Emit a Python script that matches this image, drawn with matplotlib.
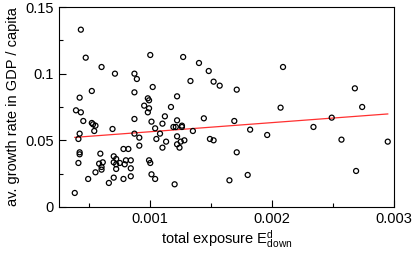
import numpy as np
import matplotlib.pyplot as plt
from matplotlib.ticker import MultipleLocator

plt.rcParams['font.family'] = ['Liberation Sans', 'DejaVu Sans']
plt.rcParams['mathtext.fontset'] = 'custom'
plt.rcParams['mathtext.rm'] = 'Liberation Sans'
plt.rcParams['mathtext.it'] = 'Liberation Sans'

# exposure (x) and growth rate (y)
exposure = [0.00043, 0.00047, 0.00100, 0.00060, 0.00071, 0.00087, 0.00089, 0.00052,
            0.00087, 0.00102, 0.00042, 0.00098, 0.00122, 0.00039, 0.00043, 0.00045,
            0.00052, 0.00053, 0.00055, 0.00054, 0.00042, 0.00041, 0.00069, 0.00087,
            0.00087, 0.00091, 0.00091, 0.00095, 0.00098, 0.00099, 0.00099, 0.00101,
            0.00104, 0.00105, 0.00108, 0.00110, 0.00112, 0.00110, 0.00113, 0.00117,
            0.00119, 0.00121, 0.00122, 0.00122, 0.00124, 0.00042, 0.00042, 0.00041,
            0.00059, 0.00061, 0.00058, 0.00060, 0.00060, 0.00055, 0.00049, 0.00038,
            0.00070, 0.00072, 0.00070, 0.00072, 0.00075, 0.00072, 0.00070, 0.00066,
            0.00078, 0.00082, 0.00080, 0.00079, 0.00084, 0.00084, 0.00084, 0.00078,
            0.00099, 0.00100, 0.00101, 0.00104, 0.00120, 0.00127, 0.00140, 0.00148,
            0.00133, 0.00152, 0.00157, 0.00171, 0.00209, 0.00207, 0.00126, 0.00126,
            0.00144, 0.00135, 0.00122, 0.00128, 0.00125, 0.00149, 0.00152, 0.00169,
            0.00182, 0.00196, 0.00171, 0.00165, 0.00180, 0.00268, 0.00274, 0.00249,
            0.00234, 0.00257, 0.00295, 0.00269]
growth = [0.133, 0.112, 0.114, 0.105, 0.100, 0.100, 0.096, 0.087,
          0.086, 0.090, 0.082, 0.0815, 0.083, 0.0725, 0.071, 0.0645,
          0.063, 0.062, 0.061, 0.057, 0.055, 0.051, 0.0585, 0.066,
          0.055, 0.052, 0.046, 0.076, 0.071, 0.074, 0.080, 0.064,
          0.059, 0.051, 0.055, 0.0625, 0.068, 0.0445, 0.049, 0.075,
          0.060, 0.060, 0.065, 0.047, 0.0445, 0.041, 0.0395, 0.033,
          0.040, 0.0335, 0.0325, 0.030, 0.028, 0.026, 0.021, 0.0105,
          0.038, 0.036, 0.0335, 0.032, 0.033, 0.0285, 0.022, 0.018,
          0.0435, 0.0435, 0.035, 0.032, 0.035, 0.029, 0.023, 0.021,
          0.035, 0.033, 0.0245, 0.021, 0.017, 0.1125, 0.108, 0.102,
          0.0945, 0.094, 0.091, 0.088, 0.105, 0.0745, 0.061, 0.060,
          0.0665, 0.057, 0.053, 0.050, 0.049, 0.051, 0.050, 0.0645,
          0.058, 0.054, 0.041, 0.020, 0.024, 0.089, 0.075, 0.067,
          0.060, 0.0505, 0.049, 0.027]

# linear fit as drawn in the picture
fit_intercept = 0.0496
fit_slope = 6.84

fig = plt.figure(figsize=(4.15, 2.6), dpi=100)
ax = fig.add_axes([0.142, 0.204, 0.807, 0.769])

ax.scatter(exposure, growth, s=13, facecolors='none', edgecolors='black', linewidths=0.9, zorder=3)

xfit = np.array([min(exposure), max(exposure)])
ax.plot(xfit, fit_intercept + fit_slope * xfit, color='#ff3030', lw=0.9, zorder=2)

ax.set_xlim(0.00025, 0.003)
ax.set_ylim(0, 0.15)
ax.set_xticks([0.001, 0.002, 0.003])
ax.set_xticklabels(['0.001', '0.002', '0.003'])
ax.set_yticks([0, 0.05, 0.1, 0.15])
ax.set_yticklabels(['0', '0.05', '0.1', '0.15'])
ax.xaxis.set_minor_locator(MultipleLocator(0.0005))
ax.yaxis.set_minor_locator(MultipleLocator(0.025))
ax.tick_params(which='both', direction='in', top=False, right=False, labelsize=10.5)
ax.tick_params(which='major', length=5, width=0.8)
ax.tick_params(which='minor', length=3, width=0.8)

ax.set_xlabel(r'total exposure E$^{\mathrm{d}}_{\mathrm{down}}$', fontsize=10.5, labelpad=2)
ax.set_ylabel('av. growth rate in GDP / capita', fontsize=10.5, labelpad=4)

fig.savefig('out.png', dpi=100)
